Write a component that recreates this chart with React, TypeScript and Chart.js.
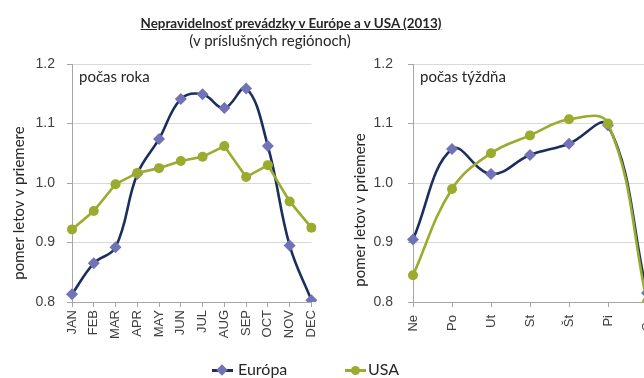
import React, { useEffect, useRef } from "react";
import { Chart, registerables } from "chart.js";

Chart.register(...registerables);

// Monthly index (ratio of flights to the yearly average)
const months = ["JAN", "FEB", "MAR", "APR", "MAY", "JUN", "JUL", "AUG", "SEP", "OCT", "NOV", "DEC"];
const europeYear = [0.813, 0.865, 0.892, 1.015, 1.074, 1.141, 1.149, 1.126, 1.159, 1.062, 0.895, 0.803];
const usaYear = [0.922, 0.953, 0.998, 1.017, 1.025, 1.037, 1.044, 1.062, 1.01, 1.03, 0.969, 0.925];

// Daily index within a week
const weekdays = ["Ne", "Po", "Ut", "St", "Št", "Pi", "So"];
const europeWeek = [0.905, 1.057, 1.015, 1.047, 1.066, 1.097, 0.815];
const usaWeek = [0.845, 0.99, 1.05, 1.08, 1.107, 1.1, 0.8];

const yTicks = [0.8, 0.9, 1.0, 1.1, 1.2];

const EU_LINE = "#1b2f5f";
const EU_MARK = "#7173b6";
const US_COLOR = "#9aab2e";
const TEXT = "#262626";
const LATO = "Lato, 'Open Sans', sans-serif";

const captionPlugin = {
  id: "captions",
  afterDraw(chart: any, _args: any, opts: any) {
    const { ctx, chartArea } = chart;
    ctx.save();
    ctx.fillStyle = TEXT;
    ctx.font = `15px ${LATO}`;
    ctx.textBaseline = "middle";
    ctx.textAlign = "left";
    ctx.fillText(opts.inset, chartArea.left + 7, opts.insetY);
    ctx.translate(opts.titleX, opts.titleY);
    ctx.rotate(-Math.PI / 2);
    ctx.textAlign = "center";
    ctx.fillText(opts.axisTitle, 0, 0);
    ctx.restore();
  },
};

type PanelProps = {
  left: number;
  labels: string[];
  europe: number[];
  usa: number[];
  usaTension: number;
  inset: string;
  padRight: number;
  xPad: number;
  yPad: number;
  titleY: number;
};

function Panel(p: PanelProps) {
  const ref = useRef<HTMLCanvasElement>(null);
  useEffect(() => {
    if (!ref.current) return;
    const chart = new Chart(ref.current, {
      type: "line",
      data: {
        labels: p.labels,
        datasets: [
          {
            label: "Európa",
            data: p.europe,
            order: 1,
            borderColor: EU_LINE,
            borderWidth: 2.6,
            tension: 0.4,
            pointStyle: "rectRot",
            pointRadius: 6,
            pointBackgroundColor: EU_MARK,
            pointBorderColor: EU_MARK,
            pointBorderWidth: 0,
          },
          {
            label: "USA",
            data: p.usa,
            order: 0,
            borderColor: US_COLOR,
            borderWidth: 2.6,
            tension: p.usaTension,
            pointStyle: "circle",
            pointRadius: 5,
            pointBackgroundColor: US_COLOR,
            pointBorderColor: US_COLOR,
            pointBorderWidth: 0,
          },
        ],
      },
      options: {
        animation: false,
        responsive: false,
        devicePixelRatio: 1,
        layout: { padding: { top: 64, right: p.padRight, bottom: 36, left: 0 } },
        plugins: {
          legend: { display: false },
          tooltip: { enabled: false },
          captions: {
            inset: p.inset,
            insetY: 77,
            axisTitle: "pomer letov v priemere",
            titleX: 19,
            titleY: p.titleY,
          },
        } as any,
        scales: {
          x: {
            type: "category",
            offset: false,
            grid: { display: true, drawOnChartArea: false, tickLength: 5, tickColor: "#a6a6a6" },
            border: { color: "#a6a6a6", width: 1 },
            ticks: {
              autoSkip: false,
              minRotation: 90,
              maxRotation: 90,
              padding: p.xPad,
              color: "#404040",
              font: { family: "'Liberation Sans', Arial, sans-serif", size: 13 },
            },
            afterFit: (s: any) => {
              s.height = 40;
            },
          },
          y: {
            min: 0.8,
            max: 1.2,
            grid: { color: "#d9d9d9", tickLength: 5, tickColor: "#a6a6a6" },
            border: { color: "#a6a6a6", width: 1 },
            ticks: {
              padding: p.yPad,
              color: "#404040",
              font: { family: "'Liberation Sans', Arial, sans-serif", size: 14 },
              callback: (v: any) => Number(v).toFixed(1),
            },
            afterBuildTicks: (s: any) => {
              s.ticks = yTicks.map((value) => ({ value }));
            },
            afterFit: (s: any) => {
              s.width = 72;
            },
          },
        },
      },
      plugins: [captionPlugin],
    });
    return () => chart.destroy();
  }, []);
  return (
    <canvas
      ref={ref}
      width={330}
      height={378}
      style={{ position: "absolute", left: p.left, top: 0, width: 330, height: 378 }}
    />
  );
}

export default function App() {
  return (
    <div
      style={{
        position: "fixed",
        left: 0,
        top: 0,
        width: 644,
        height: 378,
        overflow: "hidden",
        background: "#fff",
        fontFamily: LATO,
        color: TEXT,
      }}
    >
      <Panel
        left={0}
        labels={months}
        europe={europeYear}
        usa={usaYear}
        usaTension={0}
        inset="počas roka"
        padRight={18}
        xPad={3}
        yPad={12}
        titleY={203}
      />
      <Panel
        left={341}
        labels={weekdays}
        europe={europeWeek}
        usa={usaWeek}
        usaTension={0.4}
        inset="počas týždňa"
        padRight={24}
        xPad={8}
        yPad={15}
        titleY={210}
      />
      <div
        style={{
          position: "absolute",
          left: 0,
          top: 14,
          width: 582,
          textAlign: "center",
          fontWeight: 700,
          fontSize: 13.4,
          lineHeight: "18px",
          textDecoration: "underline",
        }}
      >
        Nepravidelnosť prevádzky v Európe a v USA (2013)
      </div>
      <div
        style={{
          position: "absolute",
          left: 0,
          top: 31,
          width: 540,
          textAlign: "center",
          fontSize: 15,
          lineHeight: "18px",
        }}
      >
        (v príslušných regiónoch)
      </div>
      {/* legend */}
      <div style={{ position: "absolute", left: 212, top: 369, width: 21, height: 2.6, background: EU_LINE }} />
      <div
        style={{
          position: "absolute",
          left: 218,
          top: 366,
          width: 8,
          height: 8,
          background: EU_MARK,
          transform: "rotate(45deg)",
        }}
      />
      <div style={{ position: "absolute", left: 238, top: 359, fontSize: 16, lineHeight: "20px" }}>Európa</div>
      <div style={{ position: "absolute", left: 345, top: 369, width: 21, height: 2.6, background: US_COLOR }} />
      <div
        style={{
          position: "absolute",
          left: 350.5,
          top: 365.5,
          width: 9,
          height: 9,
          borderRadius: "50%",
          background: US_COLOR,
        }}
      />
      <div style={{ position: "absolute", left: 368, top: 359, fontSize: 16, lineHeight: "20px" }}>USA</div>
    </div>
  );
}
